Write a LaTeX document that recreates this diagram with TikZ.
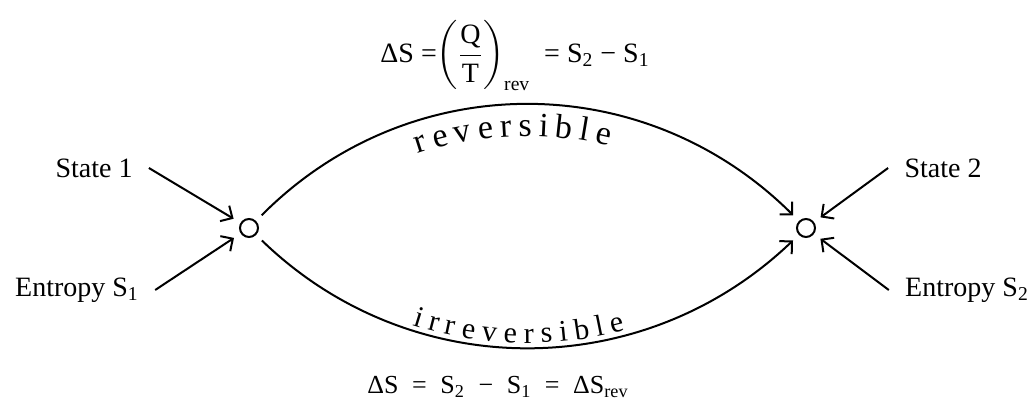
\documentclass[tikz,border=0pt]{standalone}
\usepackage{amsmath}
\usepackage{fontspec}
\setmainfont{Liberation Serif}
\usetikzlibrary{arrows.meta,decorations.text}

\begin{document}
\begin{tikzpicture}[
  x=0.5pt, y=-0.5pt,
  state/.style={circle, draw, line width=1pt, minimum size=9pt, inner sep=0pt, outer sep=4.5pt},
  tagtext/.style={font=\fontsize{14}{16}\selectfont, inner xsep=8pt},
  formula/.style={font=\fontsize{14}{17}\selectfont},
  conn/.style={-{Straight Barb[length=4.5pt,width=9pt]}, line width=1pt},
  pathtext/.style={postaction={decorate, decoration={text along path,
                   text align={center, right indent=#1}}}}
]
  \useasboundingbox (0,0) rectangle (1033,399);

  % States
  \node[state] (c1) at (249,228) {};
  \node[state] (c2) at (806,228) {};

  % Labels
  \node[tagtext] (st1) at (94,168) {State 1};
  \node[tagtext] (en1) at (77,290) {Entropy S\textsubscript{1}};
  \node[tagtext] (st2) at (943,168) {State 2};
  \node[tagtext] (en2) at (967,290) {Entropy S\textsubscript{2}};

  \draw[conn] (st1.east) -- (c1);
  \draw[conn] (en1.east) -- (c1);
  \draw[conn] (st2.west) -- (c2);
  \draw[conn] (en2.west) -- (c2);

  % Reversible and irreversible paths
  \draw[conn, pathtext=16pt, decoration={raise=-16pt,
        text={|\fontsize{17}{20}\selectfont|r e v e r s i b l e}}]
    (c1) .. controls (409,67) and (644,67) .. (c2);
  \draw[conn, pathtext=9pt, decoration={raise=2.5pt,
        text={|\fontsize{15}{18}\selectfont|i r r e v e r s i b l e}}]
    (c1) .. controls (410,384) and (643,384) .. (c2);

  % Entropy change
  \node[formula] (top) at (515,56)
    {ΔS =$\biggl(\dfrac{\text{Q}}{\text{T}}\biggr)_{\text{rev}}$ \ = S\textsubscript{2} − S\textsubscript{1}};
  \node[formula, font=\fontsize{13}{16}\selectfont] (bottom) at (498,387)
    {\spaceskip=6.8pt\relax ΔS = S\textsubscript{2} − S\textsubscript{1} = ΔS\textsubscript{rev}};
\end{tikzpicture}
\end{document}
